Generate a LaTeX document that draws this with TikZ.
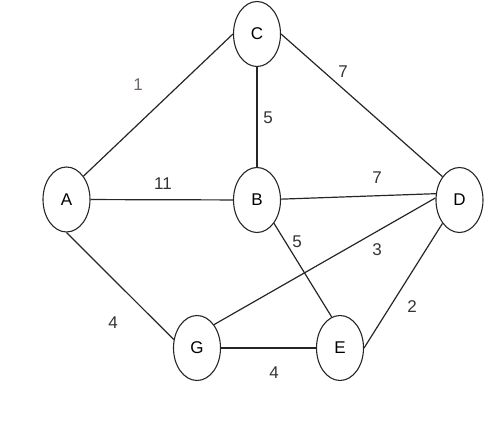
\documentclass[tikz,border=0pt]{standalone}
\usepackage{fontspec}
\setmainfont{Liberation Sans}
\usetikzlibrary{shapes.geometric}

\definecolor{wgray}{RGB}{115,100,108}

\tikzset{
vertex/.style={ellipse,draw=black!85,line width=1.1pt,minimum width=47pt,minimum height=65pt,inner sep=0pt,font=\fontsize{17}{20}\selectfont},
weight/.style={text=black!80,font=\fontsize{17}{20}\selectfont},
edge/.style={draw=black!85,line width=1.2pt}
}

\begin{document}
\begin{tikzpicture}[x=1pt,y=-1pt]

\useasboundingbox (0,0) rectangle (485,427);

\node[vertex] (C) at (257,34) {C};
\node[vertex] (A) at (66.5,199.5) {A};
\node[vertex] (B) at (257,200) {B};
\node[vertex] (D) at (459.5,200) {D};
\node[vertex] (G) at (197,348) {G};
\node[vertex] (E) at (340,348) {E};

\draw[edge] (A.north east)--(C.west);
\draw[edge] (A)--(B);
\draw[edge] (C)--(B);
\draw[edge] (C.east)--(D.north west);
\draw[edge] (B)--(D.165);
\draw[edge] (B.south east)--(E.105);
\draw[edge] (G.north east)--(D.175);
\draw[edge] (D.south west)--(E.east);
\draw[edge] (A.south)--(G.160);
\draw[edge] (G)--(E);

\node[weight,text=wgray] (wAC) at (138,85) {1};
\node[weight] (wCB) at (268,118) {5};
\node[weight] (wCD) at (343,72) {7};
\node[weight] (wAB) at (163,184) {11};
\node[weight] (wBD) at (377,178) {7};
\node[weight] (wBE) at (297,242) {5};
\node[weight] (wGD) at (377,250) {3};
\node[weight] (wDE) at (412,307) {2};
\node[weight] (wAG) at (113,323) {4};
\node[weight] (wGE) at (274,373) {4};

\end{tikzpicture}
\end{document}
